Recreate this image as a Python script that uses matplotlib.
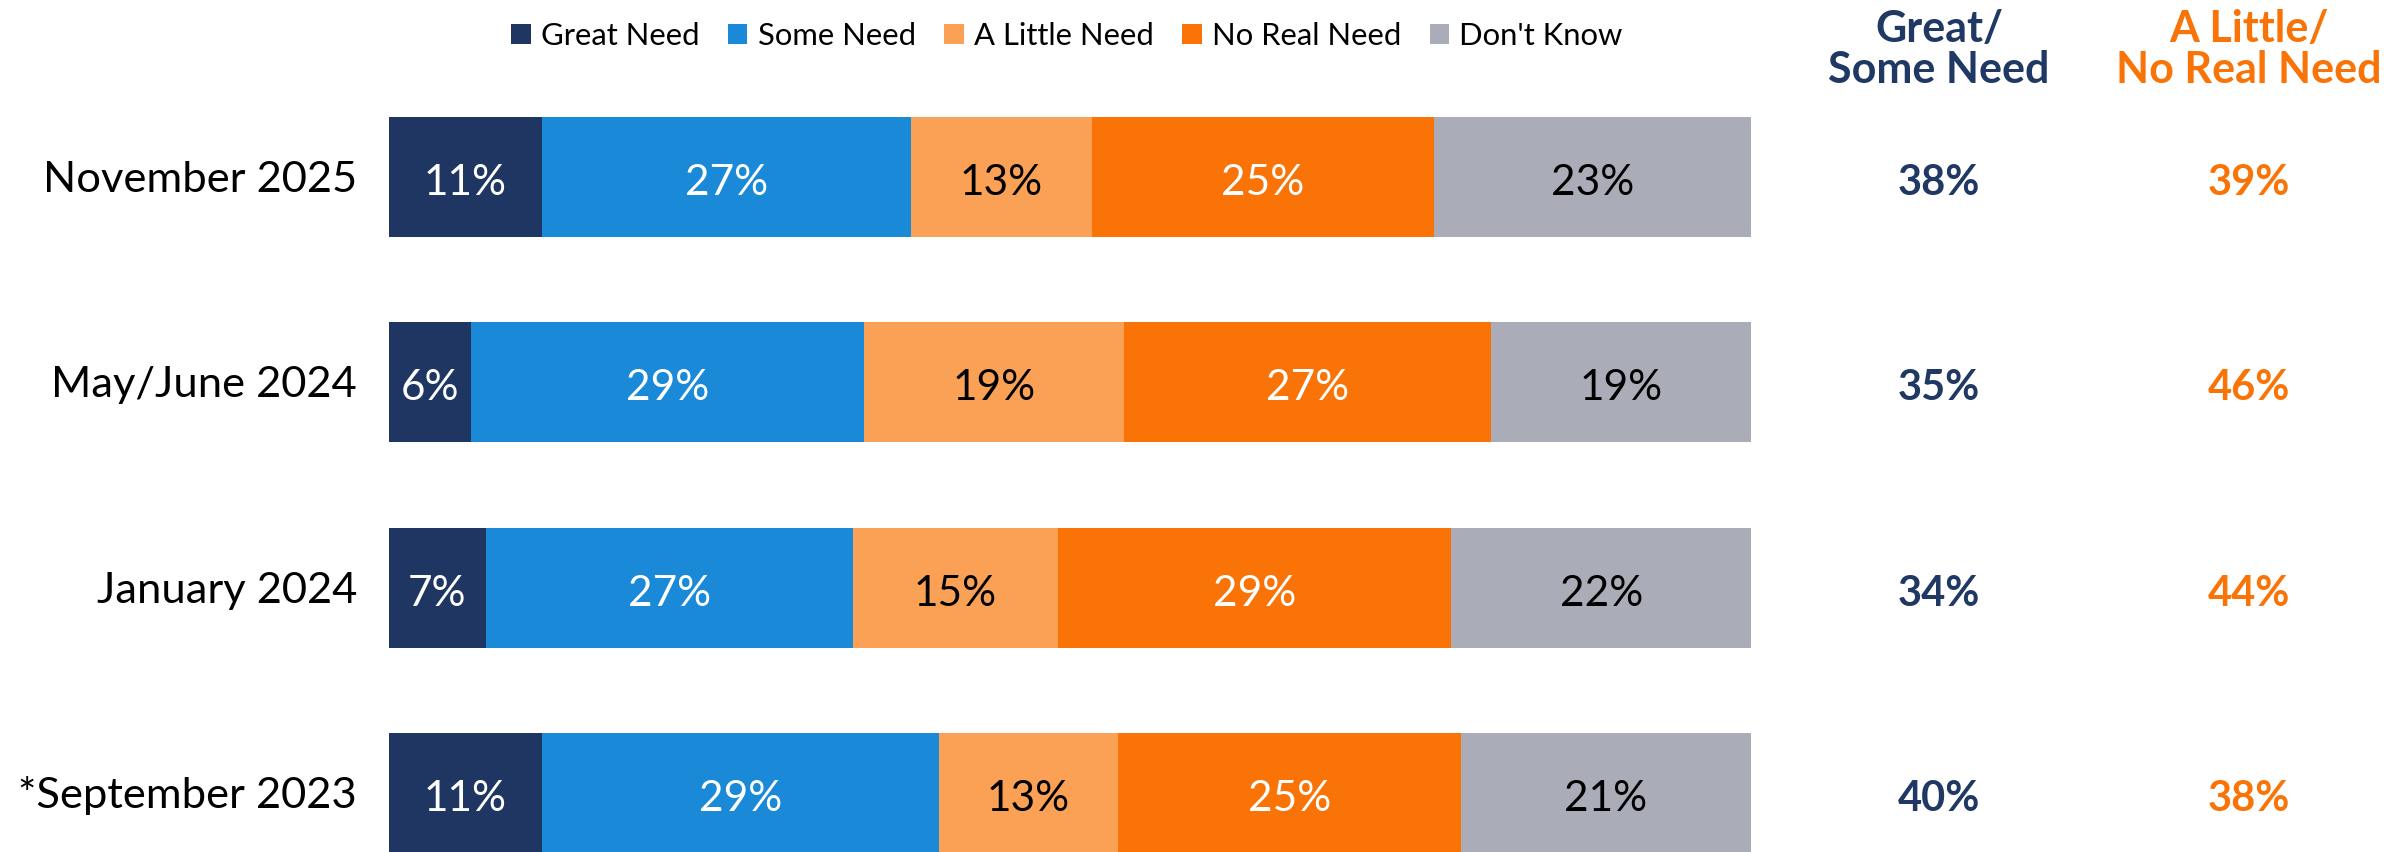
import matplotlib
matplotlib.use("Agg")
import matplotlib.pyplot as plt
from matplotlib.patches import Patch

plt.rcParams['font.family'] = ['Lato', 'DejaVu Sans']

# ---- data ----
categories = ["November 2025", "May/June 2024", "January 2024", "*September 2023"]
series_names = ["Great Need", "Some Need", "A Little Need", "No Real Need", "Don't Know"]
great_need = [11.2, 6.0, 7.1, 11.2]
some_need = [27.1, 28.9, 27.0, 29.2]
little_need = [13.3, 19.1, 15.0, 13.1]
no_real_need = [25.1, 26.9, 28.9, 25.2]
dont_know = [23.3, 19.1, 22.0, 21.3]
great_some_net = [38, 35, 34, 40]
little_noreal_net = [39, 46, 44, 38]
net_headers = [("Great/", "Some Need"), ("A Little/", "No Real Need")]

colors = ["#1E3661", "#1A89D8", "#FBA155", "#F97306", "#AAACB8"]
label_colors = ["white", "white", "black", "white", "black"]
navy_text = "#1F3864"
orange_text = "#F97306"

W, H = 2407, 852
fig = plt.figure(figsize=(W / 100, H / 100), dpi=100)
ax = fig.add_axes([389 / W, 0, 1362 / W, 1])
px = 205.33  # pixels per y unit

values = [great_need, some_need, little_need, no_real_need, dont_know]
ypos = list(range(len(categories)))
left = [0.0] * len(categories)
for name, vals, c, tc in zip(series_names, values, colors, label_colors):
    ax.barh(ypos, vals, left=left, height=120 / px, color=c, label=name)
    for y, l, v in zip(ypos, left, vals):
        ax.text(l + v / 2, y + 18 / px, f"{round(v)}%", ha="center", va="baseline",
                color=tc, fontsize=30.5)
    left = [a + b for a, b in zip(left, vals)]

ax.set_xlim(0, 100)
ax.set_ylim(3.287, -0.862)
ax.axis("off")

# category labels
xpx = 100 / 1362
for y, cat in zip(ypos, categories):
    ax.text(-32 * xpx, y + 15 / px, cat, ha="right", va="baseline", fontsize=31.3,
            color="black", clip_on=False)

# net columns
col_x = [(1939 - 389) * xpx, (2249 - 389) * xpx]
for y, a, b in zip(ypos, great_some_net, little_noreal_net):
    ax.text(col_x[0], y + 18 / px, f"{a}%", ha="center", va="baseline", fontsize=30,
            fontweight="bold", color=navy_text, clip_on=False)
    ax.text(col_x[1], y + 18 / px, f"{b}%", ha="center", va="baseline", fontsize=30,
            fontweight="bold", color=orange_text, clip_on=False)

for (l1, l2), xc, col in zip(net_headers, [1939, 2249], [navy_text, orange_text]):
    fig.text(xc / W, 1 - 42 / H, l1, ha="center", va="baseline", fontsize=31,
             fontweight="bold", color=col)
    fig.text(xc / W, 1 - 83 / H, l2, ha="center", va="baseline", fontsize=31,
             fontweight="bold", color=col)

handles = [Patch(facecolor=c, edgecolor="none", label=n) for n, c in zip(series_names, colors)]
fig.legend(handles=handles, loc="center", bbox_to_anchor=(1067 / W, 1 - 36 / H), ncol=5,
           frameon=False, fontsize=22.3, handlelength=0.62, handleheight=0.59,
           handletextpad=0.33, columnspacing=0.93, borderpad=0, borderaxespad=0)

fig.savefig("out.png", dpi=100, facecolor="white")
